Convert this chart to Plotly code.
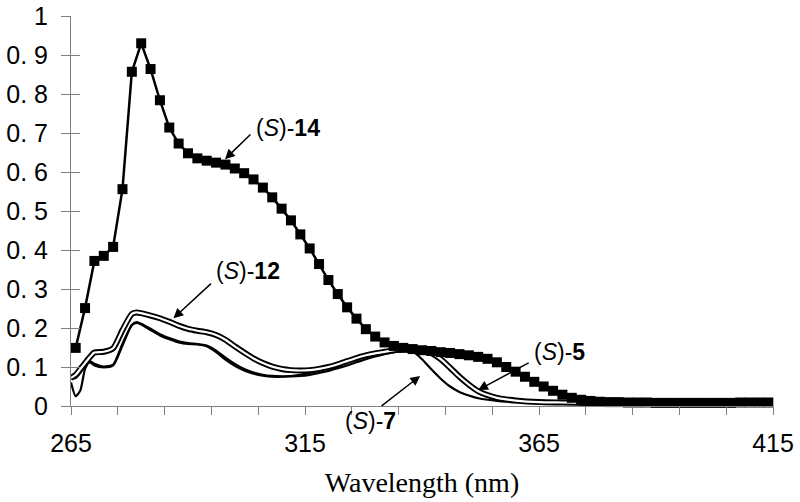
import plotly.graph_objects as go

# ---- data ----
wl_14 = list(range(266, 416, 2))
abs_14 = [0.149, 0.251, 0.372, 0.385, 0.408, 0.556, 0.857, 0.930, 0.864, 0.784,
          0.714, 0.673, 0.648, 0.635, 0.629, 0.624, 0.619, 0.609, 0.597, 0.581,
          0.560, 0.535, 0.506, 0.476, 0.440, 0.404, 0.364, 0.323, 0.287, 0.253,
          0.224, 0.197, 0.178, 0.163, 0.154, 0.149, 0.146, 0.143, 0.141, 0.138,
          0.136, 0.133, 0.130, 0.126, 0.121, 0.112, 0.100, 0.088, 0.075, 0.062,
          0.050, 0.039, 0.029, 0.021, 0.016, 0.013, 0.011, 0.010, 0.010, 0.009,
          0.009, 0.009, 0.008, 0.008, 0.008, 0.008, 0.008, 0.008, 0.008, 0.008,
          0.008, 0.009, 0.009, 0.009, 0.009]

wl_lo = [265, 266, 267, 268, 269, 270, 272, 274, 276, 278, 279, 280, 282, 284, 286,
         288, 290, 292, 294, 296, 298, 300, 302, 304, 306, 308, 310, 312, 314, 316,
         318, 320, 322, 324, 326, 328, 330, 332, 334, 336, 338, 340, 342, 344, 346,
         348, 350, 352, 354, 356, 358, 360, 365, 370, 375, 380, 390, 400, 415]

abs_12 = [0.072, 0.080, 0.095, 0.110, 0.125, 0.137, 0.139, 0.148, 0.195, 0.236, 0.240,
          0.238, 0.232, 0.225, 0.216, 0.206, 0.198, 0.193, 0.189, 0.182, 0.170, 0.153,
          0.137, 0.122, 0.110, 0.101, 0.095, 0.092, 0.091, 0.092, 0.095, 0.100, 0.107,
          0.115, 0.123, 0.130, 0.135, 0.139, 0.143, 0.146, 0.147, 0.144, 0.136, 0.120,
          0.098, 0.075, 0.055, 0.038, 0.028, 0.021, 0.017, 0.014, 0.010, 0.009, 0.008,
          0.008, 0.008, 0.008, 0.008]

abs_5 = [0.070, 0.072, 0.085, 0.105, 0.112, 0.104, 0.099, 0.104, 0.155, 0.208, 0.215,
         0.211, 0.198, 0.184, 0.174, 0.166, 0.161, 0.159, 0.155, 0.142, 0.124, 0.108,
         0.095, 0.086, 0.080, 0.077, 0.076, 0.076, 0.077, 0.080, 0.085, 0.090, 0.097,
         0.104, 0.112, 0.120, 0.127, 0.133, 0.138, 0.142, 0.145, 0.143, 0.135, 0.120,
         0.100, 0.077, 0.056, 0.040, 0.028, 0.021, 0.016, 0.013, 0.010, 0.009, 0.008,
         0.008, 0.008, 0.008, 0.008]

abs_7 = [0.060, 0.025, 0.040, 0.095, 0.115, 0.108, 0.101, 0.106, 0.160, 0.207, 0.213,
         0.209, 0.195, 0.181, 0.171, 0.163, 0.159, 0.158, 0.153, 0.138, 0.119, 0.103,
         0.091, 0.083, 0.078, 0.075, 0.075, 0.077, 0.080, 0.085, 0.092, 0.100, 0.108,
         0.116, 0.124, 0.131, 0.137, 0.142, 0.146, 0.148, 0.140, 0.120, 0.094, 0.070,
         0.050, 0.036, 0.027, 0.020, 0.016, 0.013, 0.011, 0.010, 0.009, 0.008, 0.008,
         0.008, 0.008, 0.008, 0.008]

x_ticks = list(range(265, 416, 10))
x_labels = ["265", "", "", "", "", "315", "", "", "", "", "365", "", "", "", "", "415"]
y_ticks = [0, 0.1, 0.2, 0.3, 0.4, 0.5, 0.6, 0.7, 0.8, 0.9, 1]
y_labels = ["0", "0. 1", "0. 2", "0. 3", "0. 4", "0. 5", "0. 6", "0. 7", "0. 8", "0. 9", "1"]

FONT = "Arial, Liberation Sans, sans-serif"
AX = "#808080"

fig = go.Figure()

fig.add_trace(go.Scatter(x=wl_lo, y=abs_7, mode="lines", line=dict(color="black", width=2.2, shape="spline", smoothing=0.6)))
fig.add_trace(go.Scatter(x=wl_lo, y=abs_5, mode="lines", line=dict(color="black", width=2.2, shape="spline", smoothing=0.6)))
fig.add_trace(go.Scatter(x=wl_lo, y=abs_12, mode="lines", line=dict(color="black", width=6, shape="spline", smoothing=0.6)))
fig.add_trace(go.Scatter(x=wl_lo, y=abs_12, mode="lines", line=dict(color="white", width=2.2, shape="spline", smoothing=0.6)))
fig.add_trace(go.Scatter(x=wl_14, y=abs_14, mode="lines+markers",
                         line=dict(color="black", width=2.5),
                         marker=dict(symbol="square", size=10, color="black"),
                         cliponaxis=False))

# overlay axis for inside ticks on y
fig.add_trace(go.Scatter(x=[None], y=[None], xaxis="x2", yaxis="y2", showlegend=False))

fig.update_layout(
    width=800, height=502,
    margin=dict(l=71, r=27, t=16, b=96, autoexpand=False),
    paper_bgcolor="white", plot_bgcolor="white",
    showlegend=False,
    font=dict(family=FONT, color="black"),
    xaxis=dict(range=[265, 415], tickvals=x_ticks, ticktext=x_labels, automargin=False,
               ticks="outside", ticklen=8, tickcolor=AX, tickwidth=1,
               showline=True, linecolor=AX, linewidth=1, showgrid=False, zeroline=False,
               tickfont=dict(size=25, family=FONT), ticklabelstandoff=7,
               title=dict(text="Wavelength (nm)", font=dict(family="Times New Roman, Liberation Serif, serif", size=28), standoff=16)),
    yaxis=dict(range=[0, 1], tickvals=y_ticks, ticktext=y_labels, automargin=False,
               ticks="outside", ticklen=9, tickcolor=AX, tickwidth=1,
               showline=True, linecolor=AX, linewidth=1, showgrid=False, zeroline=False,
               tickfont=dict(size=25, family=FONT), ticklabelstandoff=8),
    xaxis2=dict(range=[265, 415], overlaying="x", visible=False),
    yaxis2=dict(range=[0, 1], overlaying="y", tickvals=y_ticks, ticks="inside", ticklen=9, automargin=False,
                tickcolor=AX, showticklabels=False, showline=False, showgrid=False, zeroline=False),
)

ann_font = dict(family=FONT, size=23, color="black")
arrows = [
    (297.9, 0.633, 27, -26),
    (286.9, 0.225, 39, -36),
    (352.0, 0.041, 52, -28),
    (339.6, 0.077, -40, 31),
]
for x, y, ax, ay in arrows:
    fig.add_annotation(x=x, y=y, text="", showarrow=True, ax=ax, ay=ay,
                       arrowhead=2, arrowsize=1.3, arrowwidth=1.5, arrowcolor="black")

labels = [
    (304.1, 0.713, "(<i>S</i>)-<b>14</b>"),
    (295.6, 0.346, "(<i>S</i>)-<b>12</b>"),
    (363.5, 0.138, "(<i>S</i>)-<b>5</b>"),
    (323.1, -0.038, "(<i>S</i>)-<b>7</b>"),
]
for x, y, t in labels:
    fig.add_annotation(x=x, y=y, yref="y" if y >= 0 else "paper", text=t, showarrow=False,
                       xanchor="left", yanchor="middle", font=ann_font)

# remove the page's default 8px body margin so the figure sits at the window's corner
fig.write_html("out.html", config={"displayModeBar": False},
               post_script="document.body.style.margin='0';")
